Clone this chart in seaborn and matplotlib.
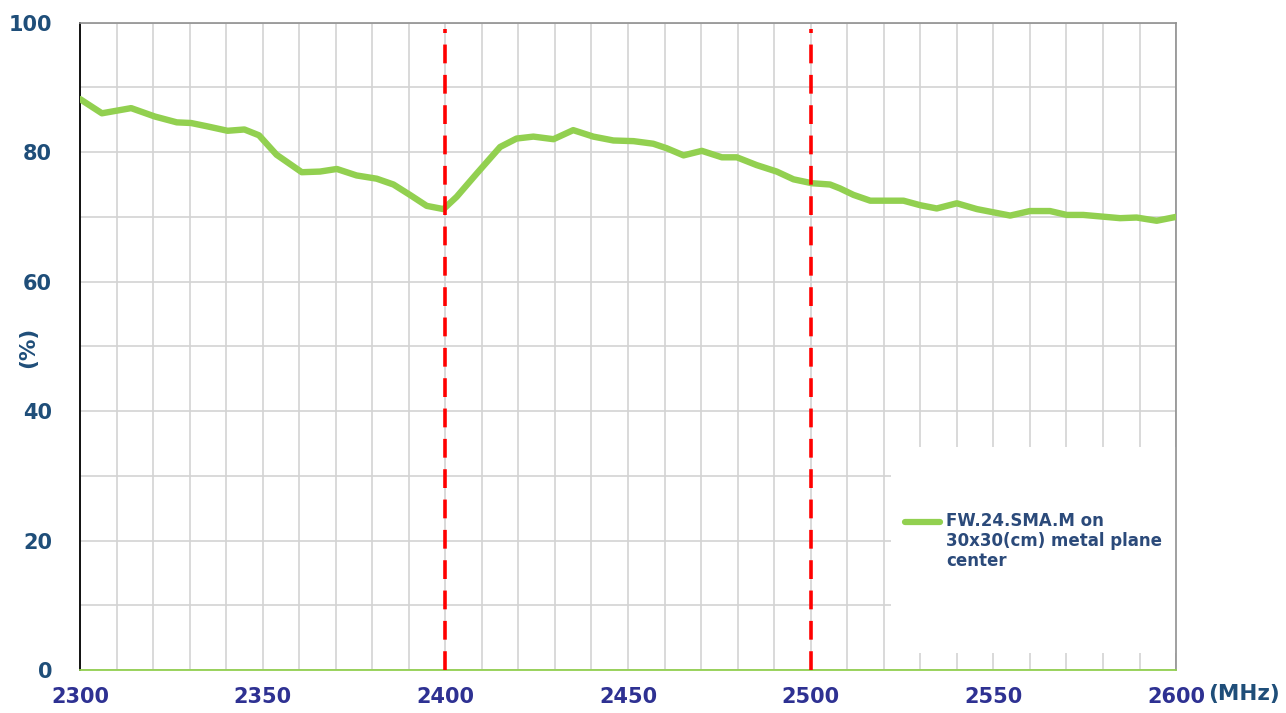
import pandas as pd
import seaborn as sns
import matplotlib.pyplot as plt
from matplotlib.ticker import MultipleLocator
from matplotlib.patches import Rectangle

# efficiency curve (MHz, %)
freq = [2300, 2306, 2314, 2320.5, 2326.5, 2330.4, 2334.7, 2340.4, 2345, 2349,
        2353.8, 2360.7, 2365.7, 2370.3, 2375.7, 2381.2, 2385.8, 2390.3, 2394.9,
        2399.5, 2403.1, 2408.6, 2415, 2419.5, 2424.1, 2429.6, 2435, 2440.5,
        2446, 2451.5, 2456.9, 2460.6, 2465.2, 2470.2, 2475.7, 2479.8, 2485.2,
        2490.7, 2495.3, 2500.3, 2505.3, 2508, 2511.7, 2516.3, 2525.4, 2530,
        2534.5, 2540, 2545.5, 2554.6, 2560, 2565.5, 2570.1, 2574.6, 2584.7,
        2589.2, 2594.7, 2600]
eff = [88.2, 86.0, 86.8, 85.5, 84.6, 84.5, 84.0, 83.3, 83.5, 82.6,
       79.6, 76.9, 77.0, 77.4, 76.4, 75.9, 75.0, 73.4, 71.7,
       71.2, 73.1, 76.7, 80.8, 82.1, 82.4, 82.0, 83.4, 82.4,
       81.8, 81.7, 81.3, 80.6, 79.5, 80.2, 79.2, 79.2, 78.0,
       77.0, 75.8, 75.2, 75.0, 74.4, 73.4, 72.5, 72.5, 71.8,
       71.3, 72.1, 71.2, 70.2, 70.9, 70.9, 70.3, 70.3, 69.8,
       69.9, 69.4, 70.0]
series_name = "FW.24.SMA.M on\n30x30(cm) metal plane\ncenter"
band_edges = [2400, 2500]

df = pd.DataFrame({"freq": freq, "eff": eff})

sns.set_style("white")
plt.rcParams['font.family'] = ['DejaVu Sans']

green = "#92d050"
ycol = "#1f4e79"
xcol = "#2e3192"

fig = plt.figure(figsize=(12.86, 7.13), dpi=100)
ax = fig.add_axes([0.0622, 0.0603, 0.8523, 0.9079])

sns.lineplot(data=df, x="freq", y="eff", ax=ax, color=green, linewidth=4.6,
             label=series_name, zorder=4, solid_joinstyle="round",
             solid_capstyle="round")

for b in band_edges:
    ax.axvline(b, ymin=0, ymax=0.99, color="#ff0000", linewidth=2.6,
               linestyle=(0, (5.2, 3.2)), zorder=5)

ax.set_xlim(2300, 2600)
ax.set_ylim(0, 100)
ax.xaxis.set_major_locator(MultipleLocator(50))
ax.xaxis.set_minor_locator(MultipleLocator(10))
ax.yaxis.set_major_locator(MultipleLocator(20))
ax.yaxis.set_minor_locator(MultipleLocator(10))
ax.grid(True, which="both", color="#d3d3d3", linewidth=1.2, zorder=0)
ax.set_axisbelow(True)

# white block behind the legend hides the grid there
ax.add_patch(Rectangle((2522, 2.6), 78, 31.9, facecolor="white",
                       edgecolor="none", zorder=1))

ax.tick_params(axis="y", which="major", direction="in", length=6.5,
               width=1.2, color="black", pad=20, labelsize=15,
               labelcolor=ycol)
ax.tick_params(axis="x", which="major", direction="in", length=5,
               width=1, color=green, pad=12, labelsize=15,
               labelcolor=xcol)
ax.tick_params(which="minor", length=0)
for lab in ax.get_xticklabels() + ax.get_yticklabels():
    lab.set_fontweight("bold")

ax.spines["left"].set_color("black")
ax.spines["left"].set_linewidth(1.3)
ax.spines["bottom"].set_color(green)
ax.spines["bottom"].set_linewidth(1.3)
ax.spines["top"].set_color("#909090")
ax.spines["right"].set_color("#909090")
ax.spines["top"].set_linewidth(1.2)
ax.spines["right"].set_linewidth(1.2)

ax.set_xlabel("")
ax.set_ylabel("")
fig.text(28 / 1286, 1 - 347 / 713, "(%)", fontsize=15.5, fontweight="bold",
         color=ycol, rotation=90, ha="center", va="center")
fig.text(1208 / 1286, 1 - 694 / 713, "(MHz)", fontsize=15.5, fontweight="bold",
         color=ycol, ha="left", va="center")

leg = ax.legend(loc="upper left", bbox_to_anchor=(0.739, 0.268), frameon=False,
                fontsize=12, handlelength=2.1, handletextpad=0.35,
                labelspacing=0.2)
for t in leg.get_texts():
    t.set_fontweight("bold")
    t.set_color("#2b4a7a")
    t.set_linespacing(1.15)
# put the legend swatch next to the first text line
for h in leg.get_lines():
    h.set_linewidth(4.5)
    yd = h.get_ydata()
    h.set_ydata([v + 14 for v in yd])

fig.savefig("out.png", dpi=100)
